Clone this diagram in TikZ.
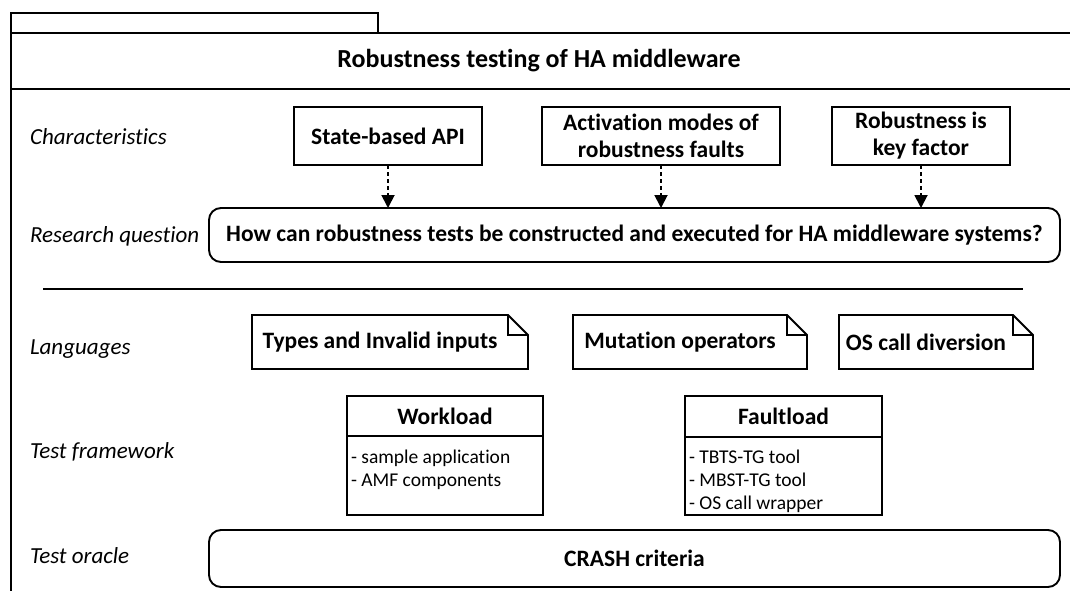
\documentclass[tikz,border=0pt]{standalone}
\usepackage{fontspec}
\setmainfont{Carlito}[Ligatures={NoCommon,NoRequired,NoContextual}]
\usetikzlibrary{arrows.meta}
\begin{document}
\begin{tikzpicture}[x=1pt,y=-1pt,
  every node/.style={inner sep=0pt, outer sep=0pt},
  lw/.style={line width=1.9pt},
  bigbold/.style={font=\fontsize{23.5}{27}\selectfont\bfseries},
  charbox/.style={draw, lw, minimum height=58pt, align=center, bigbold},
  roundbox/.style={draw, lw, rounded corners=12pt, bigbold},
  notetext/.style={minimum height=54pt, bigbold},
  hdrbox/.style={draw, lw, bigbold},
  bodybox/.style={draw, lw, anchor=north},
  item/.style={anchor=base west, font=\fontsize{19.5}{23}\selectfont},
  lab/.style={anchor=west, font=\fontsize{23}{27}\selectfont\itshape},
  dasharrow/.style={line width=1.9pt, dash pattern=on 4pt off 3pt, -{Triangle[width=13pt,length=13pt]}}
]
\useasboundingbox (0,0) rectangle (1070,591);
% package frame
\draw[lw] (11,595) -- (11,13) -- (378,13) -- (378,33);
\draw[lw] (11,33) -- (1072,33);
\draw[lw] (11,89) -- (1072,89);
\node[font=\fontsize{26}{30}\selectfont\bfseries] (title) at (539,61) {Robustness testing of HA middleware};

% row labels
\node[lab] (l1) at (30,137) {Characteristics};
\node[lab] (l2) at (30,236) {Research question};
\node[lab] (l3) at (30,349) {Languages};
\node[lab] (l4) at (30,452) {Test framework};
\node[lab] (l5) at (30,556) {Test oracle};

% characteristics
\node[charbox, minimum width=188pt] (c1) at (388,136) {State-based API};
\node[charbox, minimum width=238pt] (c2) at (661,136) {Activation modes of\\robustness faults};
\node[charbox, minimum width=178pt] (c3) at (921,136) {Robustness is\\key factor};

% research question
\node[roundbox, minimum width=851pt, minimum height=54pt] (rq) at (634.5,235)
  {How can robustness tests be constructed and executed for HA middleware systems?};

\foreach \c in {c1,c2,c3}
  \draw[dasharrow] (\c.south) -- (\c.south |- rq.north);

% separator
\coordinate (s1) at (43,289);
\coordinate (s2) at (1023,289);
\draw[lw] (s1) -- (s2);

% languages (notes)
\node[notetext, minimum width=256pt] (n1) at (380,342) {Types and Invalid inputs};
\node[notetext, minimum width=214pt] (n2) at (680,342) {Mutation operators};
\node[notetext, minimum width=174pt] (n3) at (926,342) {OS call diversion};
\foreach \n in {n1,n2,n3} {
  \draw[lw, line join=miter] (\n.north west) -- (\n.north east) -- ([xshift=20pt,yshift=-20pt]\n.north east)
     -- ([xshift=20pt]\n.south east) -- (\n.south west) -- cycle;
  \draw[lw] (\n.north east) -- ([yshift=-20pt]\n.north east) -- ([xshift=20pt,yshift=-20pt]\n.north east);
}

% test framework
\node[hdrbox, minimum width=196pt, minimum height=40pt] (wlh) at (445,416) {Workload};
\node[bodybox, minimum width=196pt, minimum height=79pt] (wlb) at (wlh.south) {};
\node[item] (w1) at (351,463) {- sample application};
\node[item] (w2) at (351,486) {- AMF components};

\node[hdrbox, minimum width=197pt, minimum height=41pt] (flh) at (783.5,416.5) {Faultload};
\node[bodybox, minimum width=197pt, minimum height=78pt] (flb) at (flh.south) {};
\node[item] (f1) at (689,463) {- TBTS-TG tool};
\node[item] (f2) at (689,486) {- MBST-TG tool};
\node[item] (f3) at (689,509) {- OS call wrapper};

% test oracle
\node[roundbox, minimum width=851pt, minimum height=57pt] (crash) at (634.5,558.5) {CRASH criteria};
\end{tikzpicture}
\end{document}
